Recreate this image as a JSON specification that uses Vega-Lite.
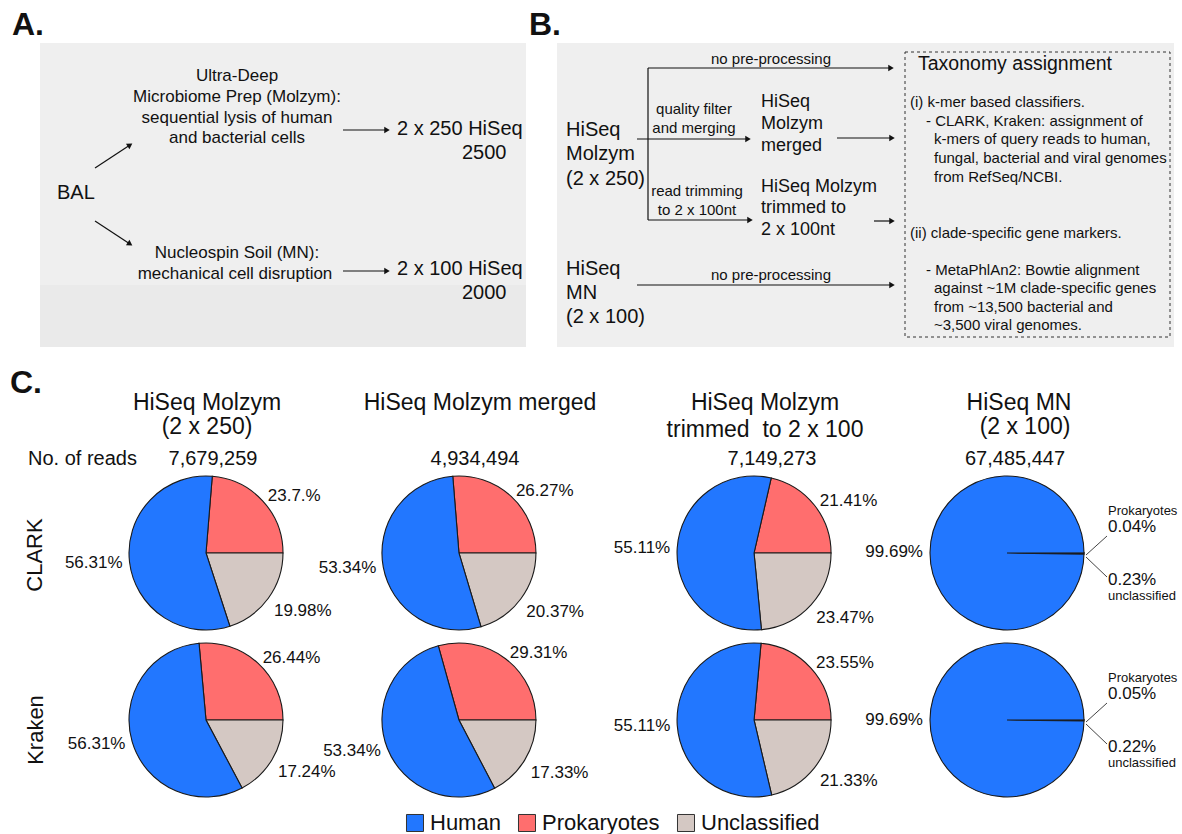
{
  "$schema": "https://vega.github.io/schema/vega-lite/v6.json",
  "width": 1182,
  "height": 834,
  "autosize": {"type": "fit", "contains": "padding"},
  "padding": 0,
  "background": "white",
  "config": {"view": {"stroke": null}, "font": "Liberation Sans", "text": {"color": "#111111"}},
  "datasets": {
    "boxes": [{"x": 40, "x2": 526, "y": 43, "y2": 347}, {"x": 557, "x2": 1174, "y": 43, "y2": 347}],
    "bands": [{"x": 40, "x2": 526, "y": 285, "y2": 347}],
    "dashbox": [{"x": 905, "x2": 1170, "y": 52, "y2": 337}],
    "lines": [
      {"x": 95, "y": 168, "x2": 130, "y2": 145, "kind": "up"},
      {"x": 95, "y": 221, "x2": 130, "y2": 244, "kind": "down"},
      {"x": 343, "y": 130, "x2": 387, "y2": 130, "kind": "right"},
      {"x": 343, "y": 271, "x2": 387, "y2": 271, "kind": "right"},
      {"x": 648, "y": 68, "x2": 648, "y2": 220, "kind": "none"},
      {"x": 648, "y": 68, "x2": 891, "y2": 68, "kind": "right"},
      {"x": 637, "y": 139, "x2": 748, "y2": 139, "kind": "right"},
      {"x": 648, "y": 220, "x2": 750, "y2": 220, "kind": "right"},
      {"x": 837, "y": 138, "x2": 892, "y2": 138, "kind": "right"},
      {"x": 874, "y": 221, "x2": 892, "y2": 221, "kind": "right"},
      {"x": 637, "y": 285, "x2": 892, "y2": 285, "kind": "right"}
    ],
    "leaders": [
      {"x": 1086, "y": 555, "x2": 1107, "y2": 536},
      {"x": 1086, "y": 557, "x2": 1107, "y2": 577},
      {"x": 1086, "y": 722, "x2": 1107, "y2": 703},
      {"x": 1086, "y": 724, "x2": 1107, "y2": 744}
    ],
    "letters": [{"x": 12, "y": 25, "text": "A."}, {"x": 529, "y": 25, "text": "B."}, {"x": 10, "y": 383, "text": "C."}],
    "a_center": [
      {"x": 237, "y": 76, "text": "Ultra-Deep"},
      {"x": 237, "y": 97, "text": "Microbiome Prep (Molzym):"},
      {"x": 237, "y": 118, "text": "sequential lysis of human"},
      {"x": 237, "y": 138, "text": "and bacterial cells"},
      {"x": 237, "y": 253, "text": "Nucleospin Soil (MN):"},
      {"x": 235, "y": 274, "text": "mechanical cell disruption"}
    ],
    "a_big": [
      {"x": 57, "y": 193, "text": "BAL"},
      {"x": 397, "y": 129, "text": "2 x 250 HiSeq"},
      {"x": 462, "y": 153, "text": "2500"},
      {"x": 397, "y": 269, "text": "2 x 100 HiSeq"},
      {"x": 462, "y": 293, "text": "2000"}
    ],
    "b_samples": [
      {"x": 566, "y": 130, "text": "HiSeq"},
      {"x": 566, "y": 154, "text": "Molzym"},
      {"x": 566, "y": 179, "text": "(2 x 250)"},
      {"x": 566, "y": 269, "text": "HiSeq"},
      {"x": 566, "y": 293, "text": "MN"},
      {"x": 566, "y": 317, "text": "(2 x 100)"}
    ],
    "b_products": [
      {"x": 761, "y": 102, "text": "HiSeq"},
      {"x": 761, "y": 124, "text": "Molzym"},
      {"x": 761, "y": 146, "text": "merged"},
      {"x": 761, "y": 187, "text": "HiSeq Molzym"},
      {"x": 761, "y": 208, "text": "trimmed to"},
      {"x": 761, "y": 230, "text": "2 x 100nt"}
    ],
    "b_steps": [
      {"x": 771, "y": 59, "text": "no pre-processing"},
      {"x": 694, "y": 109, "text": "quality filter"},
      {"x": 694, "y": 128, "text": "and merging"},
      {"x": 697, "y": 191, "text": "read trimming"},
      {"x": 697, "y": 210, "text": "to 2 x 100nt"},
      {"x": 771, "y": 275, "text": "no pre-processing"}
    ],
    "b_boxtitle": [{"x": 918, "y": 64, "text": "Taxonomy assignment"}],
    "b_boxtext": [
      {"x": 910, "y": 102, "text": "(i) k-mer based classifiers."},
      {"x": 926, "y": 121, "text": "- CLARK, Kraken: assignment of"},
      {"x": 934, "y": 139, "text": "k-mers of query reads to human,"},
      {"x": 934, "y": 158, "text": "fungal, bacterial and viral genomes"},
      {"x": 934, "y": 177, "text": "from RefSeq/NCBI."},
      {"x": 910, "y": 233, "text": "(ii) clade-specific gene markers."},
      {"x": 926, "y": 270, "text": "- MetaPhlAn2: Bowtie alignment"},
      {"x": 934, "y": 288, "text": "against ~1M clade-specific genes"},
      {"x": 934, "y": 307, "text": "from ~13,500 bacterial and"},
      {"x": 934, "y": 325, "text": "~3,500 viral genomes."}
    ],
    "c_titles": [
      {"x": 207, "y": 403, "text": "HiSeq Molzym"},
      {"x": 207, "y": 427, "text": "(2 x 250)"},
      {"x": 480, "y": 403, "text": "HiSeq Molzym merged"},
      {"x": 765, "y": 403, "text": "HiSeq Molzym"},
      {"x": 765, "y": 430, "text": "trimmed \u00a0to 2 x 100"},
      {"x": 1019, "y": 403, "text": "HiSeq MN"},
      {"x": 1025, "y": 427, "text": "(2 x 100)"}
    ],
    "c_reads": [
      {"x": 213, "y": 459, "text": "7,679,259"},
      {"x": 475, "y": 459, "text": "4,934,494"},
      {"x": 772, "y": 459, "text": "7,149,273"},
      {"x": 1015, "y": 459, "text": "67,485,447"}
    ],
    "c_readslabel": [{"x": 28, "y": 459, "text": "No. of reads"}],
    "c_rows": [{"x": 35, "y": 555, "text": "CLARK"}, {"x": 36, "y": 730, "text": "Kraken"}],
    "pies": [
      {"sample": "HiSeq Molzym (2 x 250)", "method": "CLARK", "pie": 1, "category": "Prokaryotes", "ord": 3, "pct": 23.7, "label": "23.7.%"},
      {"sample": "HiSeq Molzym (2 x 250)", "method": "CLARK", "pie": 1, "category": "Unclassified", "ord": 1, "pct": 19.98, "label": "19.98%"},
      {"sample": "HiSeq Molzym (2 x 250)", "method": "CLARK", "pie": 1, "category": "Human", "ord": 2, "pct": 56.31, "label": "56.31%"},
      {"sample": "HiSeq Molzym merged", "method": "CLARK", "pie": 2, "category": "Prokaryotes", "ord": 3, "pct": 26.27, "label": "26.27%"},
      {"sample": "HiSeq Molzym merged", "method": "CLARK", "pie": 2, "category": "Unclassified", "ord": 1, "pct": 20.37, "label": "20.37%"},
      {"sample": "HiSeq Molzym merged", "method": "CLARK", "pie": 2, "category": "Human", "ord": 2, "pct": 53.34, "label": "53.34%"},
      {"sample": "HiSeq Molzym trimmed to 2 x 100", "method": "CLARK", "pie": 3, "category": "Prokaryotes", "ord": 3, "pct": 21.41, "label": "21.41%"},
      {"sample": "HiSeq Molzym trimmed to 2 x 100", "method": "CLARK", "pie": 3, "category": "Unclassified", "ord": 1, "pct": 23.47, "label": "23.47%"},
      {"sample": "HiSeq Molzym trimmed to 2 x 100", "method": "CLARK", "pie": 3, "category": "Human", "ord": 2, "pct": 55.11, "label": "55.11%"},
      {"sample": "HiSeq MN (2 x 100)", "method": "CLARK", "pie": 4, "category": "Prokaryotes", "ord": 3, "pct": 0.04, "label": "0.04%"},
      {"sample": "HiSeq MN (2 x 100)", "method": "CLARK", "pie": 4, "category": "Unclassified", "ord": 1, "pct": 0.23, "label": "0.23%"},
      {"sample": "HiSeq MN (2 x 100)", "method": "CLARK", "pie": 4, "category": "Human", "ord": 2, "pct": 99.69, "label": "99.69%"},
      {"sample": "HiSeq Molzym (2 x 250)", "method": "Kraken", "pie": 5, "category": "Prokaryotes", "ord": 3, "pct": 26.44, "label": "26.44%"},
      {"sample": "HiSeq Molzym (2 x 250)", "method": "Kraken", "pie": 5, "category": "Unclassified", "ord": 1, "pct": 17.24, "label": "17.24%"},
      {"sample": "HiSeq Molzym (2 x 250)", "method": "Kraken", "pie": 5, "category": "Human", "ord": 2, "pct": 56.31, "label": "56.31%"},
      {"sample": "HiSeq Molzym merged", "method": "Kraken", "pie": 6, "category": "Prokaryotes", "ord": 3, "pct": 29.31, "label": "29.31%"},
      {"sample": "HiSeq Molzym merged", "method": "Kraken", "pie": 6, "category": "Unclassified", "ord": 1, "pct": 17.33, "label": "17.33%"},
      {"sample": "HiSeq Molzym merged", "method": "Kraken", "pie": 6, "category": "Human", "ord": 2, "pct": 53.34, "label": "53.34%"},
      {"sample": "HiSeq Molzym trimmed to 2 x 100", "method": "Kraken", "pie": 7, "category": "Prokaryotes", "ord": 3, "pct": 23.55, "label": "23.55%"},
      {"sample": "HiSeq Molzym trimmed to 2 x 100", "method": "Kraken", "pie": 7, "category": "Unclassified", "ord": 1, "pct": 21.33, "label": "21.33%"},
      {"sample": "HiSeq Molzym trimmed to 2 x 100", "method": "Kraken", "pie": 7, "category": "Human", "ord": 2, "pct": 55.11, "label": "55.11%"},
      {"sample": "HiSeq MN (2 x 100)", "method": "Kraken", "pie": 8, "category": "Prokaryotes", "ord": 3, "pct": 0.05, "label": "0.05%"},
      {"sample": "HiSeq MN (2 x 100)", "method": "Kraken", "pie": 8, "category": "Unclassified", "ord": 1, "pct": 0.22, "label": "0.22%"},
      {"sample": "HiSeq MN (2 x 100)", "method": "Kraken", "pie": 8, "category": "Human", "ord": 2, "pct": 99.69, "label": "99.69%"}
    ]
  },
  "layer": [
    {
      "encoding": {
        "x": {"field": "x", "type": "quantitative", "scale": {"domain": [0, 1182], "nice": false, "zero": false}, "axis": null},
        "y": {"field": "y", "type": "quantitative", "scale": {"domain": [834, 0], "nice": false, "zero": false}, "axis": null}
      },
      "layer": [
        {"data": {"name": "boxes"}, "mark": {"type": "rect", "fill": "#efefef"}, "encoding": {"x2": {"field": "x2"}, "y2": {"field": "y2"}}},
        {"data": {"name": "bands"}, "mark": {"type": "rect", "fill": "#eaeaea"}, "encoding": {"x2": {"field": "x2"}, "y2": {"field": "y2"}}},
        {"data": {"name": "dashbox"}, "mark": {"type": "rect", "fill": null, "fillOpacity": 0, "stroke": "#333333", "strokeWidth": 1, "strokeDash": [3, 3]}, "encoding": {"x2": {"field": "x2"}, "y2": {"field": "y2"}}},
        {"data": {"name": "lines"}, "mark": {"type": "rule", "color": "#111111", "strokeWidth": 1.2}, "encoding": {"x2": {"field": "x2"}, "y2": {"field": "y2"}}},
        {"data": {"name": "leaders"}, "mark": {"type": "rule", "color": "#444444", "strokeWidth": 1}, "encoding": {"x2": {"field": "x2"}, "y2": {"field": "y2"}}},
        {"data": {"name": "lines"}, "transform": [{"filter": "datum.kind === 'right'"}], "mark": {"type": "point", "shape": "triangle-right", "filled": true, "color": "#111111", "size": 40, "opacity": 1},
          "encoding": {"x": {"field": "x2", "type": "quantitative", "scale": {"domain": [0, 1182], "nice": false, "zero": false}, "axis": null}, "y": {"field": "y2", "type": "quantitative", "scale": {"domain": [834, 0], "nice": false, "zero": false}, "axis": null}}},
        {"data": {"name": "lines"}, "transform": [{"filter": "datum.kind === 'up'"}], "mark": {"type": "point", "shape": "triangle-right", "filled": true, "color": "#111111", "size": 40, "opacity": 1, "angle": -33},
          "encoding": {"x": {"field": "x2", "type": "quantitative", "scale": {"domain": [0, 1182], "nice": false, "zero": false}, "axis": null}, "y": {"field": "y2", "type": "quantitative", "scale": {"domain": [834, 0], "nice": false, "zero": false}, "axis": null}}},
        {"data": {"name": "lines"}, "transform": [{"filter": "datum.kind === 'down'"}], "mark": {"type": "point", "shape": "triangle-right", "filled": true, "color": "#111111", "size": 40, "opacity": 1, "angle": 33},
          "encoding": {"x": {"field": "x2", "type": "quantitative", "scale": {"domain": [0, 1182], "nice": false, "zero": false}, "axis": null}, "y": {"field": "y2", "type": "quantitative", "scale": {"domain": [834, 0], "nice": false, "zero": false}, "axis": null}}},
        {"data": {"name": "letters"}, "mark": {"type": "text", "align": "left", "baseline": "middle", "fontSize": 32, "fontWeight": "bold"}, "encoding": {"text": {"field": "text"}}},
        {"data": {"name": "a_center"}, "mark": {"type": "text", "align": "center", "baseline": "middle", "fontSize": 17}, "encoding": {"text": {"field": "text"}}},
        {"data": {"name": "a_big"}, "mark": {"type": "text", "align": "left", "baseline": "middle", "fontSize": 20}, "encoding": {"text": {"field": "text"}}},
        {"data": {"name": "b_samples"}, "mark": {"type": "text", "align": "left", "baseline": "middle", "fontSize": 20}, "encoding": {"text": {"field": "text"}}},
        {"data": {"name": "b_products"}, "mark": {"type": "text", "align": "left", "baseline": "middle", "fontSize": 18}, "encoding": {"text": {"field": "text"}}},
        {"data": {"name": "b_steps"}, "mark": {"type": "text", "align": "center", "baseline": "middle", "fontSize": 15}, "encoding": {"text": {"field": "text"}}},
        {"data": {"name": "b_boxtitle"}, "mark": {"type": "text", "align": "left", "baseline": "middle", "fontSize": 19.5}, "encoding": {"text": {"field": "text"}}},
        {"data": {"name": "b_boxtext"}, "mark": {"type": "text", "align": "left", "baseline": "middle", "fontSize": 15}, "encoding": {"text": {"field": "text"}}},
        {"data": {"name": "c_titles"}, "mark": {"type": "text", "align": "center", "baseline": "middle", "fontSize": 23}, "encoding": {"text": {"field": "text"}}},
        {"data": {"name": "c_reads"}, "mark": {"type": "text", "align": "center", "baseline": "middle", "fontSize": 20}, "encoding": {"text": {"field": "text"}}},
        {"data": {"name": "c_readslabel"}, "mark": {"type": "text", "align": "left", "baseline": "middle", "fontSize": 20}, "encoding": {"text": {"field": "text"}}},
        {"data": {"name": "c_rows"}, "mark": {"type": "text", "align": "center", "baseline": "middle", "fontSize": 22, "angle": 270}, "encoding": {"text": {"field": "text"}}}
      ]
    },
    {
      "data": {"name": "pies"},
      "encoding": {
        "x": {"field": "sample", "type": "nominal", "axis": null, "scale": {"type": "point", "padding": 0, "range": [206, 1007],
          "domain": ["HiSeq Molzym (2 x 250)", "_a1", "_a2", "_a3", "_a4", "_a5", "HiSeq Molzym merged", "_b1", "_b2", "_b3", "_b4", "_b5", "_b6", "HiSeq Molzym trimmed to 2 x 100", "_c1", "_c2", "_c3", "_c4", "_c5", "HiSeq MN (2 x 100)"]}},
        "y": {"field": "method", "type": "nominal", "axis": null, "scale": {"type": "point", "padding": 0, "range": [553, 720], "domain": ["CLARK", "Kraken"]}},
        "theta": {"field": "pct", "type": "quantitative", "stack": "normalize", "scale": {"range": [1.5708, 7.854]}},
        "radius": {"field": "pie", "type": "quantitative", "scale": {"type": "linear", "domain": [1, 8], "range": [77, 77], "zero": false}},
        "order": {"field": "ord", "type": "quantitative"}
      },
      "layer": [
        {"mark": {"type": "arc", "stroke": "#1a1a1a", "strokeWidth": 1.1},
          "encoding": {
            "radius2": {"value": 0},
            "color": {"field": "category", "type": "nominal",
            "scale": {"domain": ["Human", "Prokaryotes", "Unclassified"], "range": ["#2277ff", "#ff6e6e", "#d4c8c3"]},
            "legend": {"orient": "none", "legendX": 404, "legendY": 812, "direction": "horizontal", "title": null, "symbolType": "square", "symbolSize": 290, "symbolStrokeColor": "#333333", "symbolStrokeWidth": 1, "labelFontSize": 22, "labelFont": "Liberation Sans", "labelColor": "#111111", "labelOffset": 4, "columnPadding": 15, "padding": 0}}}},
        {"mark": {"type": "text", "align": "right", "baseline": "middle", "radiusOffset": 7, "fontSize": 17},
          "encoding": {"detail": {"field": "category"}, "text": {"condition": {"test": "datum.category === 'Human'", "field": "label", "type": "nominal"}, "value": ""}}},
        {"mark": {"type": "text", "align": "left", "baseline": "middle", "radiusOffset": 7, "fontSize": 17},
          "encoding": {"detail": {"field": "category"}, "text": {"condition": {"test": "datum.category === 'Prokaryotes' && datum.sample !== 'HiSeq MN (2 x 100)'", "field": "label", "type": "nominal"}, "value": ""}}},
        {"mark": {"type": "text", "align": "left", "baseline": "middle", "radiusOffset": 7, "dy": 9, "fontSize": 17},
          "encoding": {"detail": {"field": "category"}, "text": {"condition": {"test": "datum.category === 'Unclassified' && datum.sample !== 'HiSeq MN (2 x 100)'", "field": "label", "type": "nominal"}, "value": ""}}},
        {"mark": {"type": "text", "align": "left", "baseline": "middle", "radiusOffset": 24, "dy": -26, "fontSize": 17},
          "encoding": {"detail": {"field": "category"}, "text": {"condition": {"test": "datum.category === 'Prokaryotes' && datum.sample === 'HiSeq MN (2 x 100)'", "field": "label", "type": "nominal"}, "value": ""}}},
        {"mark": {"type": "text", "align": "left", "baseline": "middle", "radiusOffset": 24, "dy": 26, "fontSize": 17},
          "encoding": {"detail": {"field": "category"}, "text": {"condition": {"test": "datum.category === 'Unclassified' && datum.sample === 'HiSeq MN (2 x 100)'", "field": "label", "type": "nominal"}, "value": ""}}},
        {"mark": {"type": "text", "align": "left", "baseline": "middle", "radiusOffset": 24, "dy": -42, "fontSize": 13},
          "encoding": {"detail": {"field": "category"}, "text": {"condition": {"test": "datum.category === 'Prokaryotes' && datum.sample === 'HiSeq MN (2 x 100)'", "value": "Prokaryotes"}, "value": ""}}},
        {"mark": {"type": "text", "align": "left", "baseline": "middle", "radiusOffset": 24, "dy": 42, "fontSize": 13},
          "encoding": {"detail": {"field": "category"}, "text": {"condition": {"test": "datum.category === 'Unclassified' && datum.sample === 'HiSeq MN (2 x 100)'", "value": "unclassified"}, "value": ""}}}
      ]
    }
  ],
  "resolve": {"scale": {"x": "independent", "y": "independent"}}
}
